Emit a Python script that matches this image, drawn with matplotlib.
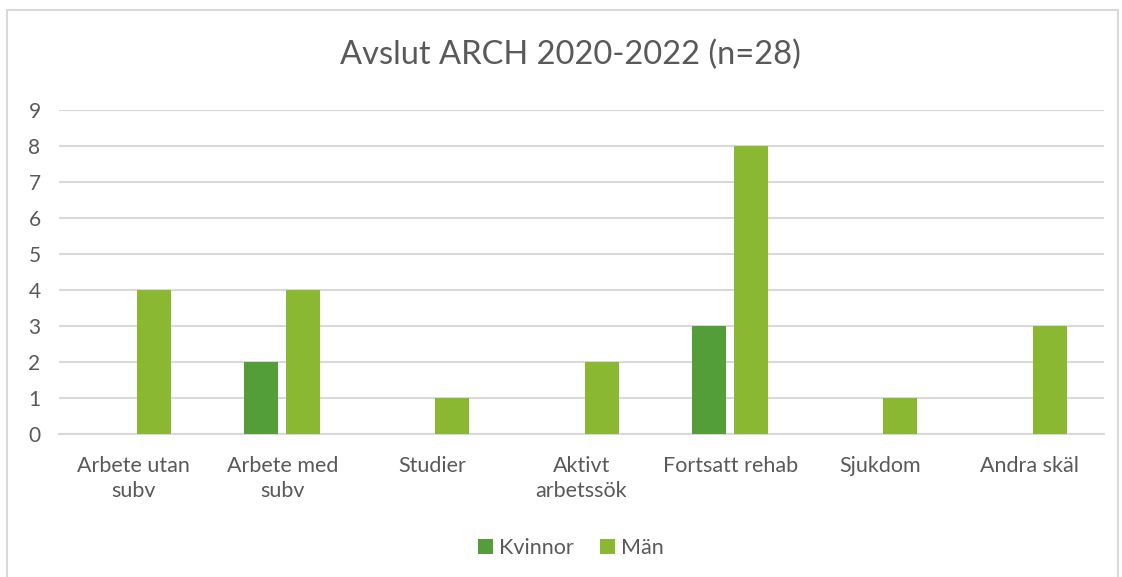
import matplotlib.pyplot as plt
import matplotlib.patches as patches
import numpy as np

categories = ['Arbete utan\nsubv', 'Arbete med\nsubv', 'Studier', 'Aktivt\narbetssök',
              'Fortsatt rehab', 'Sjukdom', 'Andra skäl']
kvinnor = [0, 2, 0, 0, 3, 0, 0]
man = [4, 4, 1, 2, 8, 1, 3]

plt.rcParams['font.family'] = ['Lato', 'DejaVu Sans']
text_col = '#595959'

fig = plt.figure(figsize=(11.22, 5.77), dpi=100)
ax = fig.add_axes([0.0526, 0.2478, 0.9314, 0.5616])

# outer chart border
fig.patches.append(patches.Rectangle((7 / 1122, -0.05), 1111 / 1122, 1 - 10 / 577 + 0.05,
                                     transform=fig.transFigure, fill=False,
                                     edgecolor='#D9D9D9', linewidth=1.5))

x = np.arange(len(categories))
w = 0.227
ax.bar(x - 0.145, kvinnor, w, color='#549E39', label='Kvinnor', zorder=3)
ax.bar(x + 0.135, man, w, color='#8AB833', label='Män', zorder=3)

ax.set_xlim(-0.5, len(categories) - 0.5)
ax.set_ylim(0, 9)
ax.set_yticks(range(0, 10))
ax.yaxis.grid(True, color='#D9D9D9', linewidth=1.5, zorder=0)
for s in ['top', 'right', 'left']:
    ax.spines[s].set_visible(False)
ax.spines['bottom'].set_color('#D9D9D9')
ax.spines['bottom'].set_linewidth(1.5)
ax.tick_params(length=0, labelcolor=text_col)
ax.tick_params(axis='y', pad=22, labelsize=15)
ax.tick_params(axis='x', pad=16, labelsize=15.5)
ax.set_xticks(x)
ax.set_xticklabels(categories, linespacing=1.3)
for lbl in ax.get_yticklabels():
    lbl.set_horizontalalignment('left')

fig.text(570 / 1122, 1 - 55 / 577, 'Avslut ARCH 2020-2022 (n=28)', ha='center', va='center',
         fontsize=23.5, color=text_col)

leg = fig.legend(loc='center', bbox_to_anchor=(571 / 1122, 1 - 548 / 577), ncol=2, frameon=False,
                 fontsize=15.5, handlelength=0.7, handleheight=0.7, handletextpad=0.3,
                 columnspacing=1.2)
for t in leg.get_texts():
    t.set_color(text_col)

plt.savefig('out.png', dpi=100)
